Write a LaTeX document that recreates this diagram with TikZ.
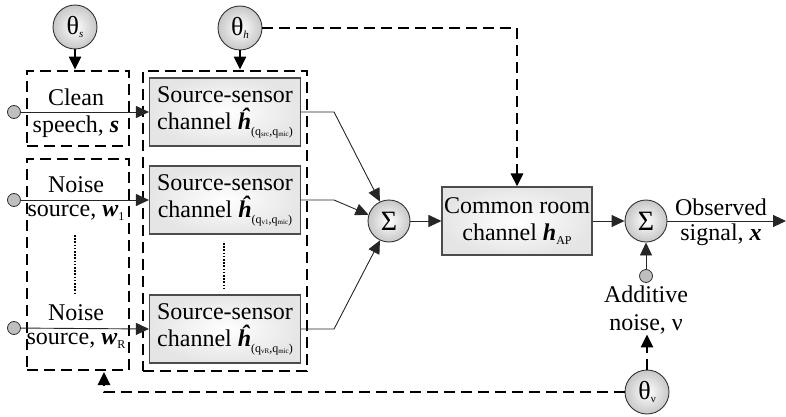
\documentclass[tikz,border=0pt]{standalone}
\usepackage{fontspec}
\setmainfont{Liberation Serif}
\usetikzlibrary{arrows.meta,shapes.geometric}
\newcommand{\lowsub}[2][12]{\raisebox{-3.5pt}{\fontsize{#1}{#1}\selectfont #2}}
\newcommand{\chsub}[1]{\raisebox{-6pt}{\fontsize{12}{12}\selectfont (q\raisebox{-1.5pt}{\fontsize{7}{7}\selectfont #1},q\raisebox{-1.5pt}{\fontsize{7}{7}\selectfont mic})}}
\begin{document}
\begin{tikzpicture}[x=1pt,y=-1pt,>={Triangle[length=13pt,width=12pt]},
 conn/.style={draw=black!85, line width=0.9pt, ->},
 dbox/.style={draw=black, line width=2.8pt, dash pattern=on 11pt off 6pt, minimum width=#1},
 dline/.style={draw=black, line width=2.8pt, dash pattern=on 11pt off 6pt, ->},
 feed/.style={draw=black, line width=2.2pt, ->},
 theta/.style={circle, draw=black!80, line width=0.9pt, inner color=white, outer color=black!22, minimum size=44pt, inner sep=0pt, font=\fontsize{26}{26}\selectfont},
 sumn/.style={theta, minimum size=42pt, font=\fontsize{28}{28}\selectfont},
 chan/.style={rectangle, draw=black!70, line width=1.1pt, inner color=white, outer color=black!10, minimum width=151pt, minimum height=68pt, inner sep=0pt, align=center, font=\fontsize{24}{27}\selectfont},
 src/.style={circle, draw=black!80, fill=black!25, line width=0.8pt, minimum size=13pt, inner sep=0pt},
 lbl/.style={font=\fontsize{24}{28}\selectfont, inner sep=0pt, align=center},
 dots/.style={line width=2pt, dash pattern=on 1.6pt off 1.6pt}]
\useasboundingbox (0,0) rectangle (786,417);

% dashed group boxes
\node[dbox=102pt, minimum height=75pt] (boxA) at (78,108.5) {};
\node[dbox=102pt, minimum height=211pt] (boxB) at (78,264.5) {};
\node[dbox=164pt, minimum height=300pt] (boxC) at (225,221) {};

% parameter nodes
\node[theta] (ts) at (75,27) {θ\lowsub[11]{\textit{s}}};
\node[theta] (th) at (240,28) {θ\lowsub[11]{\textit{h}}};
\node[theta] (tv) at (647,392) {θ\lowsub[11]{ν}};

% sources
\node[src] (in1) at (14,112) {};
\node[src] (in2) at (14,200) {};
\node[src] (in3) at (14,328) {};
\node[lbl] (l1a) at (76,97) {Clean};
\node[lbl] (l1b) at (76,127) {speech, \textbf{\textit{s}}};
\node[lbl] (l2a) at (76,185) {Noise};
\node[lbl] (l2b) at (76,213) {source, \textbf{\textit{w}}\lowsub{1}};
\node[lbl] (l3a) at (76,313) {Noise};
\node[lbl] (l3b) at (76,341) {source, \textbf{\textit{w}}\lowsub{R}};

% channels
\node[chan] (c1) at (225,112) {Source-sensor\\channel \textbf{\textit{ĥ}}\chsub{src}};
\node[chan] (c2) at (225,200) {Source-sensor\\channel \textbf{\textit{ĥ}}\chsub{v1}};
\node[chan] (c3) at (225,329) {Source-sensor\\channel \textbf{\textit{ĥ}}\chsub{vR}};

\draw[dots] (75,235) -- (75,295);
\draw[dots] (224,243) -- (224,288);

% sums and room
\node[sumn] (s1) at (389,221) {Σ};
\node[chan, minimum width=150pt] (room) at (517,221) {Common room\\channel \textbf{\textit{h}}\lowsub{AP}};
\node[sumn] (s2) at (646,221) {Σ};
\coordinate (out) at (786,221);
\node[lbl] (obs1) at (721,207) {Observed};
\node[lbl] (obs2) at (721,235) {signal, \textbf{\textit{x}}};
\node[src] (an) at (646,276) {};
\node[lbl] (addn) at (646,310) {Additive\\noise, ν};
\coordinate (fb) at (104,372);

% connectors
\draw[conn] (in1) -- (c1.west);
\draw[conn] (in2) -- (c2.west);
\draw[conn] (in3) -- (c3.west);
\draw[conn] (c1.east) -- ++(33,0) -- (s1.115);
\draw[conn] (c2.east) -- ++(33,0) -- (s1.163);
\draw[conn] (c3.east) -- ++(33,0) -- (s1.245);
\draw[conn] (s1) -- (room);
\draw[conn] (room) -- (s2);
\draw[conn] (s2) -- (out);
\draw[conn] (an) -- (s2);

\draw[feed] (ts.south) -- (ts.south |- boxA.north);
\draw[feed] (th.south) -- (th.south |- boxC.north);
\draw[dline] (th.east) -| (room.north);
\draw[dline] (tv.north) -- (addn.south -| tv.north);
\draw[dline] (tv.west) -| (fb);
\end{tikzpicture}
\end{document}
